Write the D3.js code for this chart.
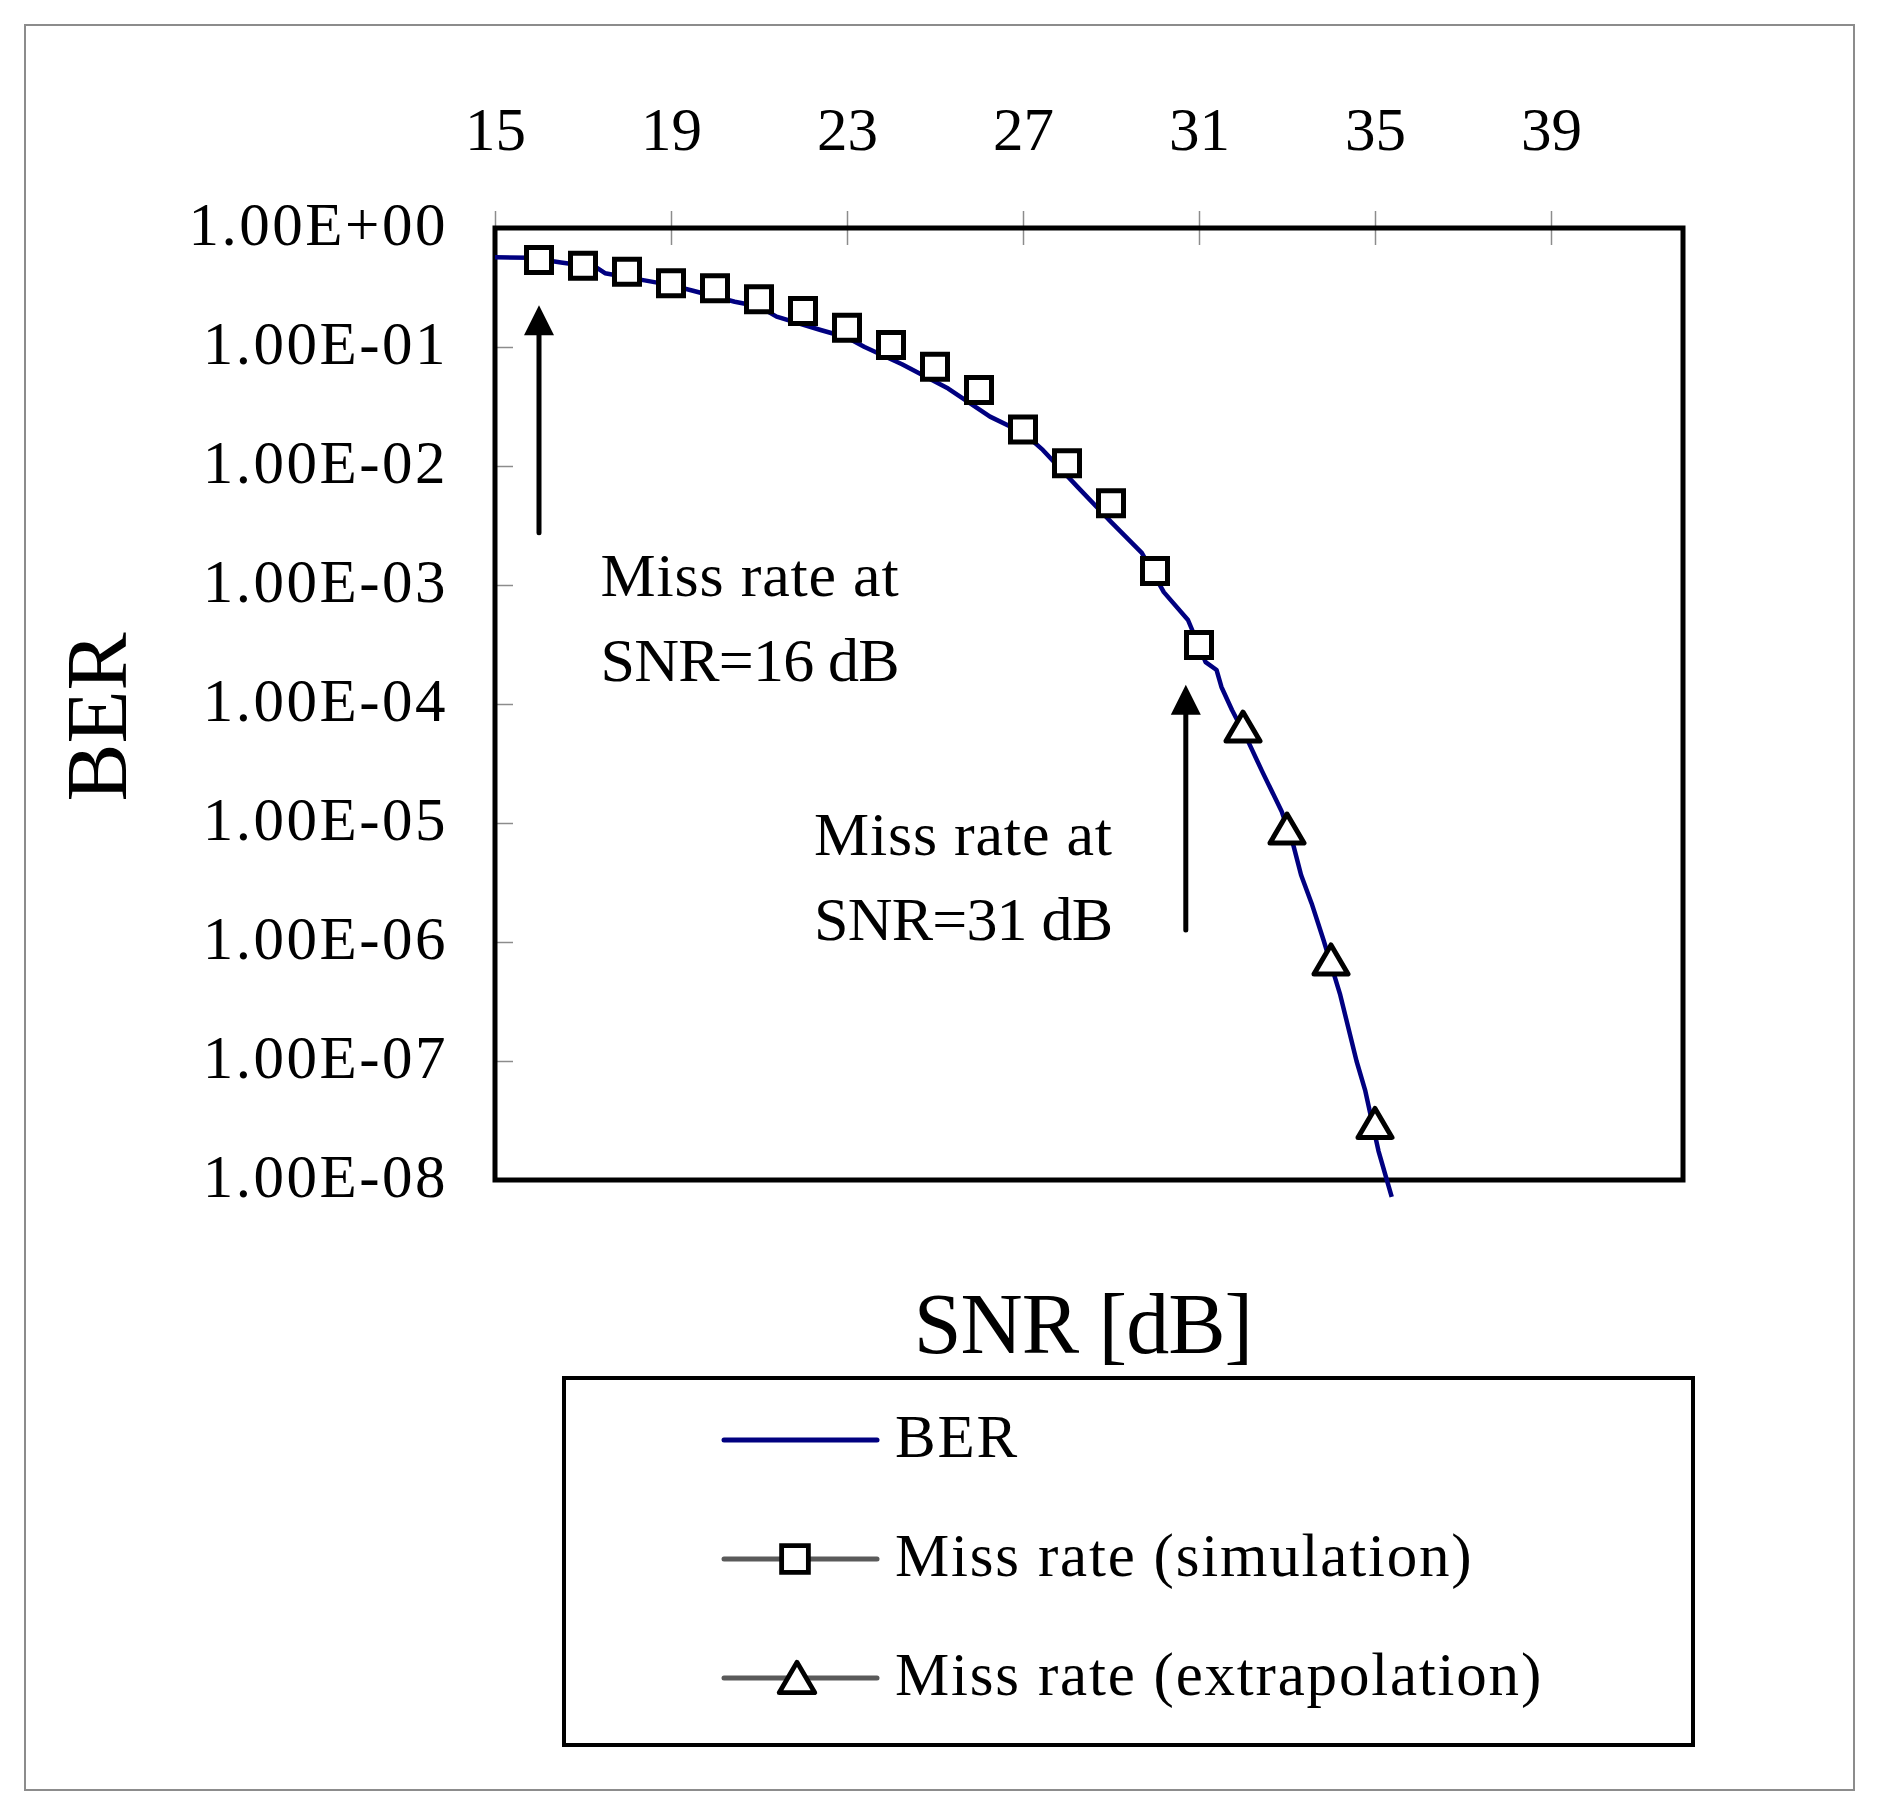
<!DOCTYPE html>
<html>
<head>
<meta charset="utf-8">
<script src="https://cdn.jsdelivr.net/npm/d3@7"></script>
<style>
  body { margin: 0; background: #fff; }
  text { font-family: "Liberation Serif", "Times New Roman", serif; fill: #000; }
</style>
</head>
<body>
<div id="chart"></div>
<script>
// data
const snrTicks = [15, 19, 23, 27, 31, 35, 39];
const berTicks = [1, 1e-1, 1e-2, 1e-3, 1e-4, 1e-5, 1e-6, 1e-7, 1e-8];

// BER curve (SNR dB, BER)
const berSnr = [15.0, 15.8, 16.5, 17.3, 17.5, 18.4, 19.0, 19.5, 20.45, 21.0, 21.4, 22.4, 23.0, 23.4,
  24.25, 25.3, 26.25, 27.0, 27.45, 28.25, 29.0, 29.7, 30.2, 30.75, 31.15, 31.4, 31.51, 31.75,
  32.13, 32.43, 32.88, 33.15, 33.32, 33.56, 33.83, 34.21, 34.58, 34.78, 35.08, 35.38];
const berVal = [0.5675, 0.5623, 0.5129, 0.4677, 0.4169, 0.3631, 0.3311, 0.2972, 0.2399, 0.2188, 0.1799, 0.139, 0.1202, 0.1,
  0.0716, 0.0447, 0.026, 0.0191, 0.01365, 0.00661, 0.00339, 0.00186, 8.71e-4, 5.08e-4, 2.25e-4, 1.93e-4, 1.39e-4, 8.9e-5,
  4.74e-5, 2.74e-5, 1.25e-5, 6.4e-6, 3.66e-6, 2.11e-6, 1.04e-6, 3.59e-7, 1.0e-7, 5.6e-8, 1.75e-8, 7.2e-9];

// miss rate (simulation)
const simSnr = [16, 17, 18, 19, 20, 21, 22, 23, 24, 25, 26, 27, 28, 29, 30, 31];
const simVal = [0.539, 0.482, 0.429, 0.343, 0.311, 0.252, 0.201, 0.145, 0.104, 0.0683, 0.0435, 0.0203, 0.01054, 0.00486, 0.00131, 0.000313];

// miss rate (extrapolation)
const extSnr = [32, 33, 34, 35];
const extVal = [6.4e-5, 8.9e-6, 7.06e-7, 2.99e-8];

const legendLabels = ["BER", "Miss rate (simulation)", "Miss rate (extrapolation)"];

// annotations: arrow at snr, from BER value to BER value, text anchor
const arrowSnr = [16, 30.7];
const arrowFrom = [2.75e-3, 1.26e-6];
const arrowTo = [0.224, 1.45e-4];
const noteSnr = [17.4, 22.25];
const noteBer = [8.1e-4, 5.4e-6];
const noteLines = [["Miss rate at", "SNR=16 dB"], ["Miss rate at", "SNR=31 dB"]];

/** CONSTANTS */
let width = 1879,
  height = 1817,
  margin = { top: 228, bottom: 637, left: 495, right: 196 },
  fontSize = 61,
  navy = "#000080",
  gray = "#5a5a5a";

let svg = d3.select("#chart").append("svg")
  .attr("width", width)
  .attr("height", height);

svg.append("rect").attr("width", width).attr("height", height).attr("fill", "#fff");

// outer border
svg.append("rect")
  .attr("x", 25).attr("y", 25)
  .attr("width", 1829).attr("height", 1765)
  .attr("fill", "none").attr("stroke", "#8c8c8c").attr("stroke-width", 2);

/** SCALES */
let xScale = d3.scaleLinear()
  .domain([15, 42])
  .range([margin.left, width - margin.right]);

let yScale = d3.scaleLog()
  .domain([1e-8, 1])
  .range([height - margin.bottom, margin.top]);

const fmtExp = v => {
  let e = Math.round(Math.log10(v));
  let s = e < 0 ? "-" : "+";
  return "1.00E" + s + String(Math.abs(e)).padStart(2, "0");
};

// x axis on top, ticks cross the frame
let xAxis = d3.axisTop(xScale).tickValues(snrTicks).tickSize(17).tickPadding(0);
let gx = svg.append("g")
  .attr("transform", `translate(0, ${margin.top})`)
  .call(xAxis);
gx.select(".domain").remove();
gx.selectAll(".tick line").attr("y1", 17).attr("y2", -17).attr("stroke", "#8c8c8c").attr("stroke-width", 1.5);
gx.selectAll(".tick text")
  .attr("y", -78).attr("dy", 0)
  .style("font-size", fontSize + "px")
  .style("font-family", "'Liberation Serif', serif")
  .attr("fill", "#000");

// y axis, ticks inside
let yAxis = d3.axisLeft(yScale).tickValues(berTicks).tickFormat(fmtExp).tickSize(-18).tickPadding(47);
let gy = svg.append("g")
  .attr("transform", `translate(${margin.left}, 0)`)
  .call(yAxis);
gy.select(".domain").remove();
gy.selectAll(".tick line").attr("stroke", "#8c8c8c").attr("stroke-width", 1.5);
gy.selectAll(".tick text")
  .attr("dy", "0.27em")
  .style("font-size", fontSize + "px")
  .style("letter-spacing", "2.5px")
  .style("font-family", "'Liberation Serif', serif")
  .attr("fill", "#000");

// plot frame
svg.append("rect")
  .attr("x", xScale(15)).attr("y", yScale(1))
  .attr("width", xScale(42) - xScale(15))
  .attr("height", yScale(1e-8) - yScale(1))
  .attr("fill", "none").attr("stroke", "#000").attr("stroke-width", 5);

// axis titles
svg.append("text")
  .attr("transform", `translate(126, 717) rotate(-90)`)
  .attr("text-anchor", "middle")
  .style("font-size", "87px")
  .text("BER");

svg.append("text")
  .attr("x", 1083).attr("y", 1353)
  .attr("text-anchor", "middle")
  .style("font-size", "86px")
  .style("letter-spacing", "-1px")
  .text("SNR [dB]");

// BER line (not clipped, runs past the bottom of the frame)
let berData = berSnr.map((s, i) => ({ snr: s, ber: berVal[i] }));
let line = d3.line().x(d => xScale(d.snr)).y(d => yScale(d.ber));
svg.append("path")
  .datum(berData)
  .attr("d", line)
  .attr("fill", "none")
  .attr("stroke", navy)
  .attr("stroke-width", 4.5)
  .attr("stroke-linejoin", "round");

// markers
const squarePath = "M-12.5,-12.5H12.5V12.5H-12.5Z";
const trianglePath = "M0,-15L17,14L-17,14Z";

svg.selectAll("path.sim")
  .data(simSnr.map((s, i) => ({ snr: s, v: simVal[i] })))
  .join("path")
  .attr("class", "sim")
  .attr("d", squarePath)
  .attr("transform", d => `translate(${xScale(d.snr)}, ${yScale(d.v)})`)
  .attr("fill", "#fff").attr("stroke", "#000").attr("stroke-width", 5);

svg.selectAll("path.ext")
  .data(extSnr.map((s, i) => ({ snr: s, v: extVal[i] })))
  .join("path")
  .attr("class", "ext")
  .attr("d", trianglePath)
  .attr("transform", d => `translate(${xScale(d.snr)}, ${yScale(d.v)})`)
  .attr("fill", "#fff").attr("stroke", "#000").attr("stroke-width", 5)
  .attr("stroke-linejoin", "round");

// arrows
arrowSnr.forEach((s, i) => {
  let x = xScale(s), y0 = yScale(arrowFrom[i]), y1 = yScale(arrowTo[i]);
  svg.append("line")
    .attr("x1", x).attr("x2", x)
    .attr("y1", y0).attr("y2", y1 + 28)
    .attr("stroke", "#000").attr("stroke-width", 5).attr("stroke-linecap", "round");
  svg.append("path")
    .attr("d", `M${x},${y1}L${x + 15},${y1 + 30}L${x - 15},${y1 + 30}Z`)
    .attr("fill", "#000");
});

// annotation text
noteSnr.forEach((s, i) => {
  let t = svg.append("text")
    .attr("x", xScale(s)).attr("y", yScale(noteBer[i]))
    .style("font-size", "62px");
  noteLines[i].forEach((l, j) => {
    t.append("tspan")
      .attr("x", xScale(s))
      .attr("dy", j === 0 ? 0 : 85)
      .style("letter-spacing", j === 0 ? "0.8px" : "-0.8px")
      .text(l);
  });
});

// legend
let legend = svg.append("g");
legend.append("rect")
  .attr("x", 564).attr("y", 1378)
  .attr("width", 1129).attr("height", 367)
  .attr("fill", "#fff").attr("stroke", "#000").attr("stroke-width", 4);

let legendY = d3.scalePoint().domain(legendLabels).range([1440, 1678]);

let items = legend.selectAll("g.item")
  .data(legendLabels)
  .join("g")
  .attr("class", "item")
  .attr("transform", d => `translate(0, ${legendY(d)})`);

items.append("line")
  .attr("x1", 724).attr("x2", 877)
  .attr("stroke", (d, i) => i === 0 ? navy : gray)
  .attr("stroke-width", 5)
  .attr("stroke-linecap", "round");

items.filter((d, i) => i === 1).append("path")
  .attr("d", squarePath).attr("transform", "translate(795, 0) scale(1.07)")
  .attr("fill", "#fff").attr("stroke", "#000").attr("stroke-width", 4.5);

items.filter((d, i) => i === 2).append("path")
  .attr("d", trianglePath).attr("transform", "translate(797, 0) scale(1.05)")
  .attr("fill", "#fff").attr("stroke", "#000").attr("stroke-width", 4.5)
  .attr("stroke-linejoin", "round");

items.append("text")
  .attr("x", 895).attr("y", 17)
  .style("font-size", fontSize + "px")
  .style("letter-spacing", "1.8px")
  .text(d => d);
</script>
</body>
</html>
